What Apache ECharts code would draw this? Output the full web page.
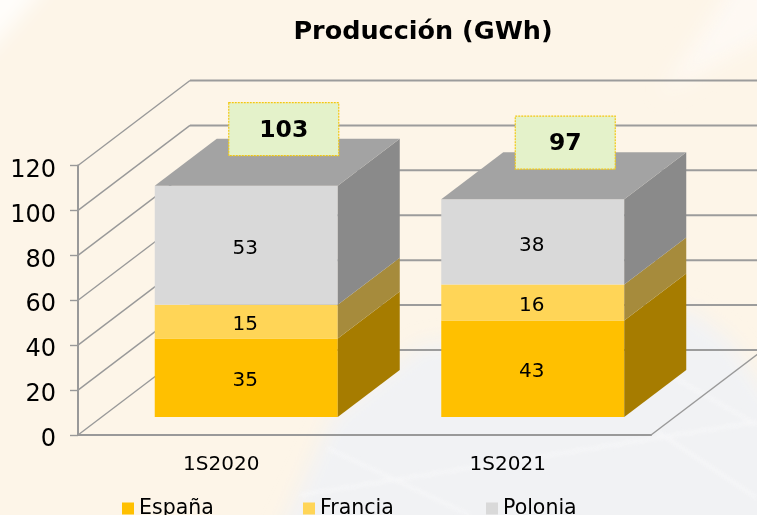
<!DOCTYPE html>
<html>
<head>
<meta charset="utf-8">
<style>
html, body { margin: 0; padding: 0; width: 757px; height: 515px; overflow: hidden; background: #FDF5E8; }
#bg { position: absolute; left: 0; top: 0; }
#chart { position: absolute; left: 0; top: 0; width: 757px; height: 515px; }
</style>
<script src="https://cdn.jsdelivr.net/npm/echarts@6/dist/echarts.min.js"></script>
</head>
<body>
<svg id="bg" width="757" height="515">
    <defs>
        <filter id="soft" x="-20%" y="-20%" width="140%" height="140%"><feGaussianBlur stdDeviation="10"/></filter>
        <filter id="softLine"><feGaussianBlur stdDeviation="2"/></filter>
    </defs>
    <g filter="url(#soft)">
        <polygon points="277,540 333,415 420,345 690,310 730,340 780,410 780,540" fill="#F1F2F4"/>
        <polygon points="-20,-20 52,-20 -20,62" fill="#FFFFFF" opacity="0.8"/>
        <polygon points="660,95 735,-20 780,-20 780,30" fill="#FDFBF8" opacity="0.7"/>
    </g>
    <g filter="url(#softLine)" stroke="#F9F9FA" stroke-width="3" fill="none" opacity="0.8">
        <line x1="327" y1="448" x2="470" y2="515"/>
        <line x1="300" y1="495" x2="757" y2="422"/>
        <line x1="675" y1="378" x2="757" y2="425"/>
        <line x1="655" y1="430" x2="757" y2="498"/>
    </g>
</svg>
<div id="chart"></div>
<script>
const categories = ['1S2020', '1S2021'];
const espana = [35, 43];
const francia = [15, 16];
const polonia = [53, 38];
const totals = [103, 97];
const yTicks = [0, 20, 40, 60, 80, 100, 120];

// 3d look: back wall offset, and bar depth, in px
const WALL_DX = 112, WALL_DY = -85;
const BAR_DX = 25, BAR_DY = -18;
const DEPTH_DX = 62, DEPTH_DY = -47;
const BAR_WIDTH = 183;
const FONT = '"DejaVu Sans", Verdana, sans-serif';

function stacked(values, below) {
    return values.map((v, i) => [i, below[i], below[i] + v, v]);
}

function wallItem(params, api) {
    const box = params.coordSys;
    const y = api.coord([0, api.value(0)])[1];
    const lineStyle = { stroke: '#999999', lineWidth: 1.4, fill: null };
    const children = [
        { type: 'line', shape: { x1: box.x, y1: y, x2: box.x + WALL_DX, y2: y + WALL_DY }, style: lineStyle },
        { type: 'line', shape: { x1: box.x + WALL_DX, y1: y + WALL_DY, x2: box.x + box.width + WALL_DX, y2: y + WALL_DY },
            style: { stroke: '#9C9C9C', lineWidth: 2 } }
    ];
    if (api.value(0) === 0) {
        children.push({ type: 'line', shape: { x1: box.x + box.width, y1: y, x2: box.x + box.width + WALL_DX, y2: y + WALL_DY }, style: lineStyle });
    }
    return { type: 'group', children: children };
}

function barRenderer(front, side, top) {
    return (params, api) => {
        const base = api.coord([api.value(0), api.value(1)]);
        const head = api.coord([api.value(0), api.value(2)]);
        const x0 = base[0] + BAR_DX - BAR_WIDTH / 2;
        const x1 = x0 + BAR_WIDTH;
        const yb = base[1] + BAR_DY;
        const yt = head[1] + BAR_DY;
        const children = [
            { type: 'polygon', shape: { points: [[x0, yt], [x1, yt], [x1, yb], [x0, yb]] }, style: { fill: front } },
            { type: 'polygon', shape: { points: [[x1, yt], [x1 + DEPTH_DX, yt + DEPTH_DY], [x1 + DEPTH_DX, yb + DEPTH_DY], [x1, yb]] }, style: { fill: side } }
        ];
        if (top) {
            children.push({ type: 'polygon', shape: { points: [[x0, yt], [x1, yt], [x1 + DEPTH_DX, yt + DEPTH_DY], [x0 + DEPTH_DX, yt + DEPTH_DY]] }, style: { fill: top } });
        }
        children.push({
            type: 'text',
            style: {
                text: String(api.value(3)), x: (x0 + x1) / 2 - 1, y: (yt + yb) / 2 + 3.5,
                align: 'center', verticalAlign: 'middle', fill: '#000', font: '20px ' + FONT
            }
        });
        return { type: 'group', children: children };
    };
}

function totalItem(params, api) {
    const head = api.coord([api.value(0), api.value(1)]);
    const label = String(api.value(1));
    const x = head[0] + BAR_DX - BAR_WIDTH / 2 + 74;
    const y = head[1] + BAR_DY - 83;
    const w = 80 + 10 * label.length;
    return {
        type: 'group',
        children: [
            { type: 'rect', shape: { x: x, y: y, width: w, height: 53 },
                style: { fill: '#E4F2CA', stroke: '#F2C811', lineWidth: 1.2, lineDash: [2, 1] } },
            { type: 'text', style: { text: label, x: x + w / 2, y: y + 28, align: 'center', verticalAlign: 'middle',
                fill: '#000', font: 'bold 23.5px ' + FONT } }
        ]
    };
}

function legendAt(name, left) {
    return {
        data: [name], left: left, top: 493, icon: 'rect',
        itemWidth: 12, itemHeight: 12,
        textStyle: { fontFamily: FONT, fontSize: 20.5, color: '#000' }
    };
}

const chart = echarts.init(document.getElementById('chart'), null, { renderer: 'canvas' });
const sumA = espana.map((v, i) => v + francia[i]);
chart.setOption({
    animation: false,
    backgroundColor: 'transparent',
    title: {
        text: 'Producción (GWh)', left: 418, top: 14, textAlign: 'center',
        textStyle: { fontFamily: FONT, fontWeight: 'bold', fontSize: 25.5, color: '#000' }
    },
    legend: [legendAt('España', 117), legendAt('Francia', 298), legendAt('Polonia', 481)],
    grid: { left: 78, right: 106, top: 165.5, bottom: 80 },
    xAxis: {
        type: 'category', data: categories,
        axisLine: { lineStyle: { color: '#999999', width: 2 } },
        axisTick: { length: 6, lineStyle: { color: '#999999', width: 1.4 } },
        axisLabel: { color: '#000', fontFamily: FONT, fontSize: 20, margin: 20 },
        splitLine: { show: false }
    },
    yAxis: {
        type: 'value', min: 0, max: 120, interval: 20,
        axisLine: { show: true, lineStyle: { color: '#999999', width: 2 } },
        axisTick: { show: true, length: 8, lineStyle: { color: '#999999', width: 1.4 } },
        axisLabel: {
            margin: 22,
            formatter: '{n|{value}}',
            rich: { n: { color: '#000', fontFamily: FONT, fontSize: 24, padding: [10, 0, 0, 0] } }
        },
        splitLine: { show: false }
    },
    series: [
        { type: 'custom', name: 'walls', data: yTicks.map(v => [v]), renderItem: wallItem, clip: false, z: 1 },
        { type: 'custom', name: 'España', data: stacked(espana, [0, 0]), itemStyle: { color: '#FFC000' },
            renderItem: barRenderer('#FFC000', '#A67C00'), clip: false, z: 2 },
        { type: 'custom', name: 'Francia', data: stacked(francia, espana), itemStyle: { color: '#FFD557' },
            renderItem: barRenderer('#FFD557', '#A68B3C'), clip: false, z: 2 },
        { type: 'custom', name: 'Polonia', data: stacked(polonia, sumA), itemStyle: { color: '#D9D9D9' },
            renderItem: barRenderer('#D9D9D9', '#8A8A8A', '#A3A3A3'), clip: false, z: 2 },
        { type: 'custom', name: 'total', data: totals.map((v, i) => [i, v]), renderItem: totalItem, clip: false, z: 3 }
    ]
});
</script>
</body>
</html>
